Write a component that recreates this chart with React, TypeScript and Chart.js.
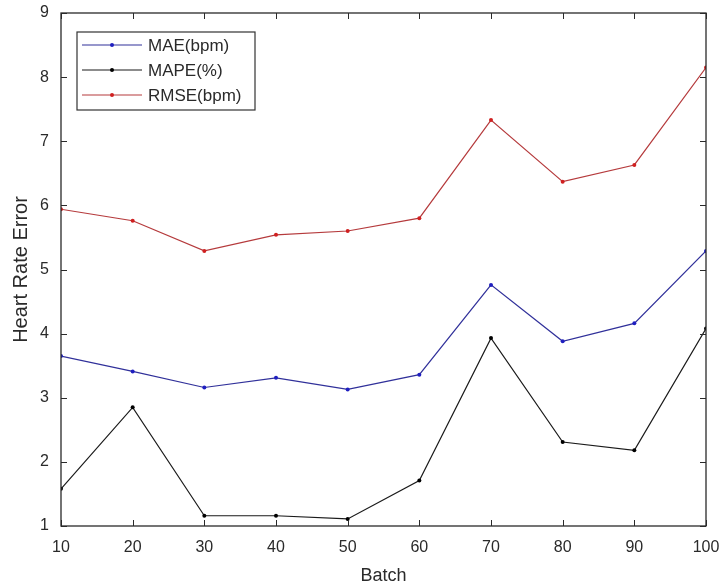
import { useEffect, useRef } from "react";
import { Chart, registerables } from "chart.js";

Chart.register(...registerables);

const batches = [10, 20, 30, 40, 50, 60, 70, 80, 90, 100];
const maeBpm = [3.65, 3.41, 3.16, 3.31, 3.13, 3.36, 4.76, 3.88, 4.16, 5.29];
const mapePct = [1.58, 2.85, 1.16, 1.16, 1.11, 1.71, 3.93, 2.31, 2.18, 4.08];
const rmseBpm = [5.94, 5.76, 5.29, 5.54, 5.6, 5.8, 7.33, 6.37, 6.63, 8.15];
const yTickValues = [1, 2, 3, 4, 5, 6, 7, 8, 9];
const xTickValues = batches;
const seriesLabels = ["MAE(bpm)", "MAPE(%)", "RMSE(bpm)"];

const FONT = "Arial, 'Liberation Sans', Helvetica, sans-serif";
const AXIS_COLOR = "#2a2a2a";

const boxPlugin = {
  id: "matlabBox",
  afterDraw(chart: any) {
    const { ctx, chartArea } = chart;
    const { left, right, top, bottom } = chartArea;
    const xs = chart.scales.x;
    const ys = chart.scales.y;
    ctx.save();
    ctx.strokeStyle = AXIS_COLOR;
    ctx.lineWidth = 1.3;
    ctx.strokeRect(left, top, right - left, bottom - top);
    const tl = 6;
    ctx.beginPath();
    for (const v of yTickValues) {
      const py = Math.round(ys.getPixelForValue(v)) + 0.5;
      ctx.moveTo(left, py);
      ctx.lineTo(left + tl, py);
      ctx.moveTo(right, py);
      ctx.lineTo(right - tl, py);
    }
    for (const v of xTickValues) {
      const px = Math.round(xs.getPixelForValue(v)) + 0.5;
      ctx.moveTo(px, bottom);
      ctx.lineTo(px, bottom - tl);
      ctx.moveTo(px, top);
      ctx.lineTo(px, top + tl);
    }
    ctx.lineWidth = 1;
    ctx.stroke();

    // legend box
    const bx = left + 16;
    const by = top + 19;
    const bw = 178;
    const bh = 78;
    ctx.fillStyle = "#ffffff";
    ctx.fillRect(bx, by, bw, bh);
    ctx.strokeStyle = "#333333";
    ctx.lineWidth = 1.2;
    ctx.strokeRect(bx, by, bw, bh);
    ctx.font = `17px ${FONT}`;
    ctx.textBaseline = "middle";
    ctx.textAlign = "left";
    chart.data.datasets.forEach((ds: any, i: number) => {
      const ly = by + 13 + i * 25;
      ctx.strokeStyle = ds.borderColor;
      ctx.lineWidth = 1.2;
      ctx.beginPath();
      ctx.moveTo(bx + 5, ly);
      ctx.lineTo(bx + 65, ly);
      ctx.stroke();
      ctx.fillStyle = ds.pointBackgroundColor;
      ctx.beginPath();
      ctx.arc(bx + 35, ly, 2, 0, Math.PI * 2);
      ctx.fill();
      ctx.fillStyle = "#2a2a2a";
      ctx.fillText(ds.label, bx + 71, ly + 1);
    });
    ctx.restore();
  },
};

export default function App() {
  const ref = useRef<HTMLCanvasElement | null>(null);

  useEffect(() => {
    if (!ref.current) return;
    const mk = (vals: number[]) => vals.map((v, i) => ({ x: batches[i], y: v }));
    const colors = ["#30309a", "#1a1a1a", "#b53a3c"];
    const pointColors = ["#1f1fc0", "#000000", "#d02020"];
    const chart = new Chart(ref.current, {
      type: "line",
      data: {
        datasets: [maeBpm, mapePct, rmseBpm].map((vals, i) => ({
          label: seriesLabels[i],
          data: mk(vals),
          borderColor: colors[i],
          backgroundColor: colors[i],
          pointBackgroundColor: pointColors[i],
          pointBorderColor: pointColors[i],
          pointRadius: 2,
          pointBorderWidth: 0,
          borderWidth: 1.2,
          tension: 0,
          fill: false,
        })),
      },
      options: {
        animation: false,
        responsive: false,
        events: [],
        layout: { padding: { left: 0, top: 13, right: 17, bottom: 0 } },
        plugins: { legend: { display: false }, tooltip: { enabled: false } },
        scales: {
          x: {
            type: "linear",
            min: 10,
            max: 100,
            afterFit: (s: any) => {
              s.height = 62;
              s.paddingLeft = 0;
              s.paddingRight = 0;
            },
            afterBuildTicks: (s: any) => {
              s.ticks = xTickValues.map((v) => ({ value: v }));
            },
            grid: { display: false, drawTicks: false },
            border: { display: false },
            ticks: {
              padding: 12,
              color: "#2a2a2a",
              font: { family: FONT, size: 16 },
              maxRotation: 0,
            },
            title: {
              display: true,
              text: "Batch",
              color: "#2a2a2a",
              font: { family: FONT, size: 18 },
              padding: { top: 0, bottom: 1 },
            },
          },
          y: {
            type: "linear",
            min: 1,
            max: 9,
            afterFit: (s: any) => {
              s.width = 61;
              s.paddingTop = 0;
              s.paddingBottom = 0;
            },
            afterBuildTicks: (s: any) => {
              s.ticks = yTickValues.map((v) => ({ value: v }));
            },
            grid: { display: false, drawTicks: false },
            border: { display: false },
            ticks: {
              padding: 12,
              color: "#2a2a2a",
              font: { family: FONT, size: 16 },
            },
            title: {
              display: true,
              text: "Heart Rate Error",
              color: "#2a2a2a",
              font: { family: FONT, size: 20 },
              padding: { top: 9, bottom: 0 },
            },
          },
        },
      },
      plugins: [boxPlugin],
    });
    return () => chart.destroy();
  }, []);

  return (
    <div style={{ position: "absolute", left: 0, top: 0, width: 723, height: 588, background: "#fff" }}>
      <canvas ref={ref} width={723} height={588} />
    </div>
  );
}
